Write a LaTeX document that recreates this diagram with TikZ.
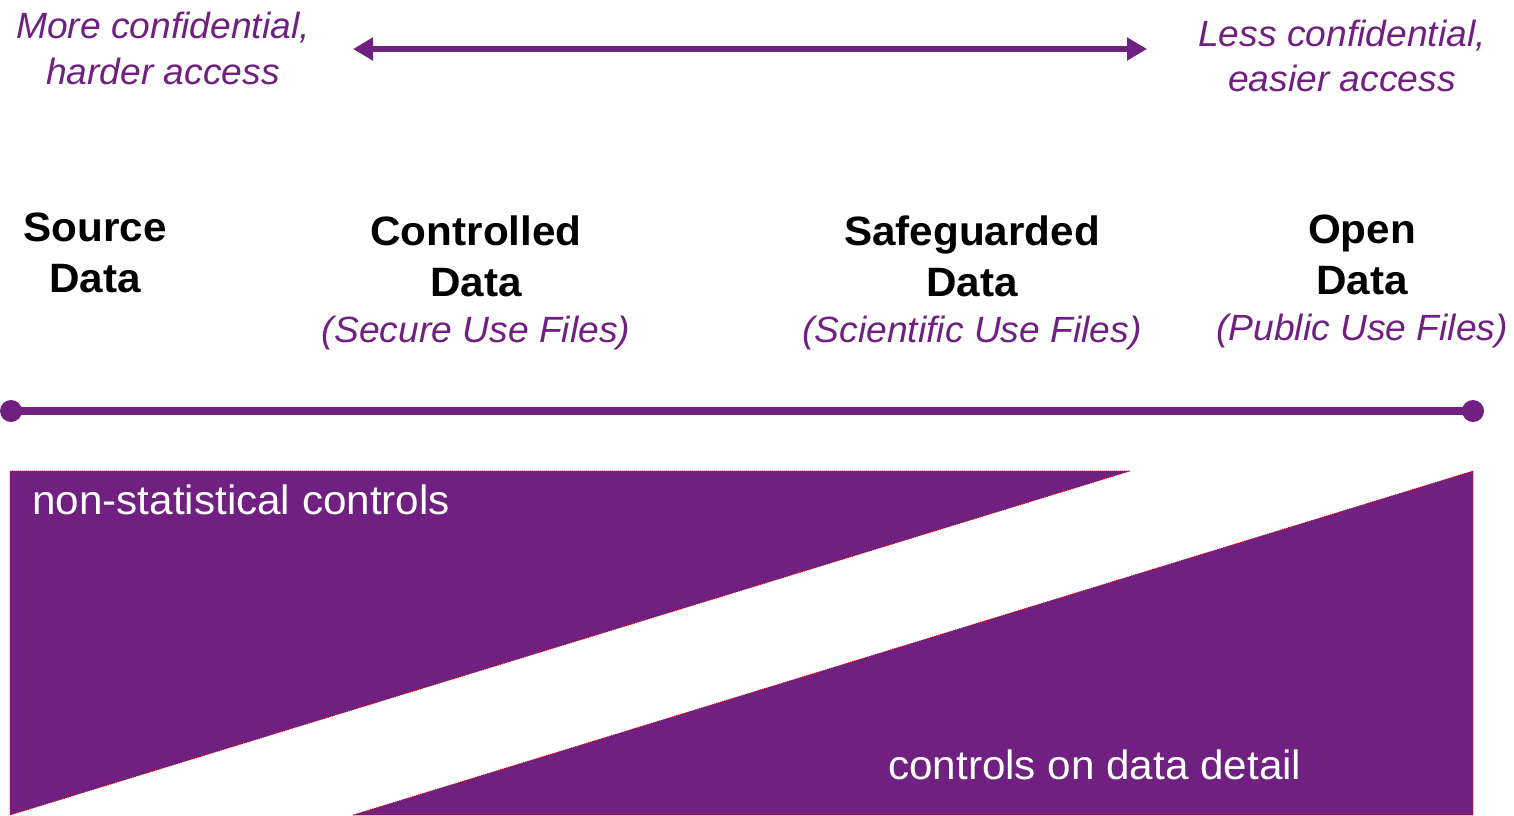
\documentclass[tikz,border=0pt]{standalone}
\usepackage{fontspec}
\setmainfont{Liberation Sans}
\newfontfamily\widebold[FakeStretch=1.03]{Liberation Sans}
\newfontfamily\wideit[FakeStretch=1.02]{Liberation Sans}
\usetikzlibrary{arrows.meta}
\definecolor{ppl}{RGB}{112,32,128}
\begin{document}
\begin{tikzpicture}[x=1pt,y=-1pt,
  boldlbl/.style={anchor=base,inner sep=0pt,font=\widebold\fontsize{41}{48}\selectfont\bfseries},
  sublbl/.style={anchor=base,inner sep=0pt,text=ppl,font=\wideit\fontsize{36.5}{43}\selectfont\itshape},
  ctrl/.style={anchor=base west,inner sep=0pt,text=white,font=\widebold\fontsize{41}{48}\selectfont},
  wedge/.style={fill=ppl,draw=red!85!black,dash pattern=on 1pt off 1pt,line width=0.8pt},
  dotend/.style={circle,fill=ppl,minimum size=22pt,inner sep=0pt},
  >={Triangle[length=20pt,width=22pt]},
]
\useasboundingbox (0,0) rectangle (1514,815);
% wedges
\coordinate (w1a) at (10,471);
\coordinate (w1b) at (1130,471);
\coordinate (w1c) at (10,815);
\coordinate (w2a) at (353,815);
\coordinate (w2b) at (1473,471);
\coordinate (w2c) at (1473,815);
\path[wedge] (w1a) -- (w1b) -- (w1c) -- cycle;
\path[wedge] (w2a) -- (w2b) -- (w2c) -- cycle;
\node[ctrl] (nsc) at (32,514) {non-statistical controls};
\node[ctrl] (cdd) at (888,779) {controls on data detail};
% scale line
\node[dotend] (l) at (11,411) {};
\node[dotend] (r) at (1473,411) {};
\draw[ppl,line width=8pt] (l.center) -- (r.center);
% top arrow
\coordinate (al) at (353,49);
\coordinate (ar) at (1147,49);
\draw[ppl,line width=6pt,<->] (al) -- (ar);
\node[sublbl] (m1) at (163,38) {More confidential,};
\node[sublbl] (m2) at (163,84) {harder access};
\node[sublbl] (e1) at (1342,46) {Less confidential,};
\node[sublbl] (e2) at (1342,91) {easier access};
% categories
\node[boldlbl] (s1) at (95,241) {Source};
\node[boldlbl] (s2) at (95,292) {Data};
\node[boldlbl] (c1) at (476,245) {Controlled};
\node[boldlbl] (c2) at (476,296) {Data};
\node[sublbl] (c3) at (476,342) {(Secure Use Files)};
\node[boldlbl] (g1) at (972,245) {Safeguarded};
\node[boldlbl] (g2) at (972,296) {Data};
\node[sublbl] (g3) at (972,342) {(Scientific Use Files)};
\node[boldlbl] (o1) at (1362,243) {Open};
\node[boldlbl] (o2) at (1362,294) {Data};
\node[sublbl] (o3) at (1362,340) {(Public Use Files)};
\end{tikzpicture}
\end{document}
